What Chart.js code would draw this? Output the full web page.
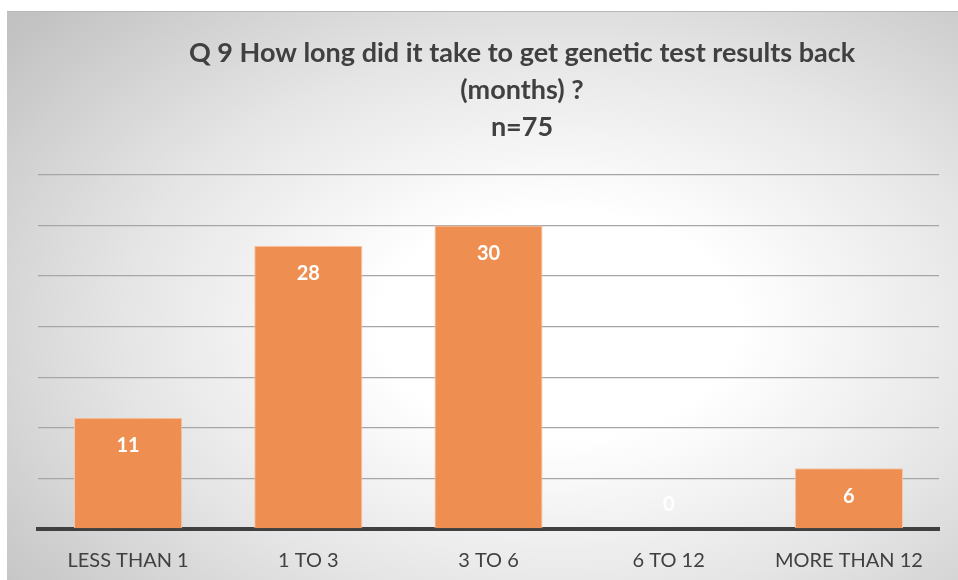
<!DOCTYPE html>
<html>
<head>
<meta charset="utf-8">
<script src="https://cdn.jsdelivr.net/npm/chart.js@4"></script>
<style>
  body { margin: 0; background: #fff; }
  #marco {
    position: absolute; left: 7px; top: 11px; width: 951px; height: 569px;
    border-top: 1px solid #b8b8b8;
    background: radial-gradient(ellipse 75% 80% at 58% 55%, #ffffff 25%, #e6e6e6 60%, #c2c2c2 100%);
  }
</style>
</head>
<body>
<div id="marco"><canvas id="grafico" width="951" height="568"></canvas></div>
<script>
const categorias = ["LESS THAN 1", "1 TO 3", "3 TO 6", "6 TO 12", "MORE THAN 12"];
const respuestas = [11, 28, 30, 0, 6];
const tituloLineas = ["Q 9 How long did it take to get genetic test results back", "(months) ?", "n=75"];

// titulo dibujado a mano (en Excel no esta centrado en el canvas)
const pluginTitulo = {
  id: "titulo",
  afterDraw(chart) {
    const ctx = chart.ctx;
    ctx.save();
    ctx.fillStyle = "#404040";
    ctx.font = "bold 27px Lato";
    ctx.textAlign = "center";
    ctx.textBaseline = "middle";
    tituloLineas.forEach((linea, i) => {
      ctx.fillText(linea, 515, 41 + i * 37);
    });
    ctx.restore();
  }
};

// etiquetas blancas dentro de cada barra
const pluginEtiquetas = {
  id: "etiquetas",
  afterDatasetsDraw(chart) {
    const ctx = chart.ctx;
    const meta = chart.getDatasetMeta(0);
    ctx.save();
    ctx.fillStyle = "#ffffff";
    ctx.font = "bold 20px Lato";
    ctx.textAlign = "center";
    ctx.textBaseline = "middle";
    meta.data.forEach((barra, i) => {
      let y = barra.y + 28;
      if (respuestas[i] == 0) y = barra.base - 24;
      ctx.fillText(respuestas[i], barra.x, y);
    });
    ctx.restore();
  }
};

const config = {
  type: "bar",
  data: {
    labels: categorias,
    datasets: [{
      data: respuestas,
      backgroundColor: "#EE8E50",
      borderColor: "#F6C4A3",
      borderWidth: 1,
      categoryPercentage: 0.6,
      barPercentage: 1
    }]
  },
  options: {
    responsive: false,
    animation: false,
    layout: { padding: { top: 163, left: 31, right: 19, bottom: -13 } },
    plugins: { legend: { display: false }, tooltip: { enabled: false } },
    scales: {
      y: {
        min: 0, max: 35,
        ticks: { display: false, stepSize: 5 },
        border: { display: false },
        grid: { color: "#a6a6a6", lineWidth: 1.3, drawTicks: false }
      },
      x: {
        grid: { display: false, drawTicks: false },
        border: { color: "#404040", width: 4 },
        ticks: { color: "#404040", font: { family: "Lato", size: 20 }, padding: 20 }
      }
    }
  },
  plugins: [pluginTitulo, pluginEtiquetas]
};

new Chart(document.getElementById("grafico"), config);
</script>
</body>
</html>
